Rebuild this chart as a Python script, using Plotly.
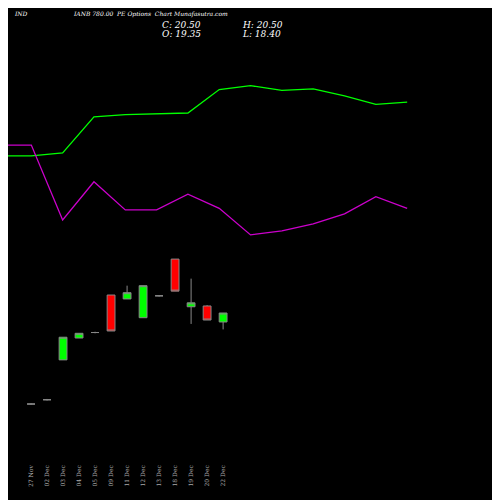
import numpy as np
import plotly.graph_objects as go

dates = ["27 Nov", "02 Dec", "03 Dec", "04 Dec", "05 Dec", "09 Dec", "11 Dec",
         "12 Dec", "13 Dec", "18 Dec", "19 Dec", "20 Dec", "22 Dec"]
opens = [8.85, 9.4, 14.5, 17.3, 18.0, 22.8, 22.3, 19.9, 22.7, 27.4, 21.3, 21.4, 19.35]
highs = [8.95, 9.5, 17.4, 17.9, 18.1, 22.8, 24.0, 24.0, 22.8, 27.4, 24.9, 21.5, 20.5]
lows = [8.75, 9.3, 14.5, 17.3, 17.9, 18.2, 22.3, 19.9, 22.6, 23.3, 19.1, 19.6, 18.4]
closes = [8.85, 9.4, 17.4, 17.9, 18.0, 18.2, 23.1, 24.0, 22.7, 23.3, 21.8, 19.6, 20.5]

# indicator lines (price units)
green_line = [40.6, 40.6, 41.0, 45.6, 45.9, 46.0, 46.1, 49.1, 49.6, 49.0, 49.2, 48.3, 47.2, 47.5]
magenta_line = [42.0, 42.0, 32.4, 37.3, 33.7, 33.7, 35.7, 33.9, 30.5, 31.0, 31.9, 33.2, 35.4, 33.9]

xi = np.arange(len(dates))
line_x = np.linspace(-1.94, 23.5, len(green_line))

fig = go.Figure()
fig.add_trace(go.Scatter(x=line_x, y=green_line, mode="lines",
                         line=dict(color="#00ff00", width=1.3), hoverinfo="skip"))
fig.add_trace(go.Scatter(x=line_x, y=magenta_line, mode="lines",
                         line=dict(color="#cc00cc", width=1.3), hoverinfo="skip"))
fig.add_trace(go.Candlestick(
    x=xi, open=opens, high=highs, low=lows, close=closes,
    increasing=dict(fillcolor="#00ff00", line=dict(color="#888888", width=1)),
    decreasing=dict(fillcolor="#ff0000", line=dict(color="#888888", width=1)),
    whiskerwidth=0, hoverinfo="skip"))

fig.update_layout(
    width=500, height=500, paper_bgcolor="black", plot_bgcolor="black",
    showlegend=False, margin=dict(l=0, r=0, t=0, b=45, autoexpand=False),
    font=dict(family="DejaVu Serif", color="white"),
    xaxis=dict(range=[-1.44, 29.8], showgrid=False, zeroline=False,
               rangeslider=dict(visible=False), tickmode="array",
               tickvals=xi, ticktext=dates, tickangle=-90,
               tickfont=dict(size=6, color="#aaaaaa"), ticks=""),
    yaxis=dict(range=[1.3, 59.54], showgrid=False, zeroline=False,
               showticklabels=False),
)

font_small = dict(family="DejaVu Serif", size=6, color="white")
font_val = dict(family="DejaVu Serif", size=9, color="white")
anns = [
    (12, 14, "<i>IND</i>", font_small),
    (71, 14, "<i>IANB 780.00  PE Options  Chart Munafasutra.com</i>", font_small),
    (160, 25, "<i>C: 20.50</i>", font_val),
    (240, 25, "<i>H: 20.50</i>", font_val),
    (160, 34, "<i>O: 19.35</i>", font_val),
    (240, 34, "<i>L: 18.40</i>", font_val),
]
for x, y, t, f in anns:
    fig.add_annotation(x=(x - 8) / 500, y=1 - (y - 8) / 455, xref="paper", yref="paper",
                       yanchor="middle", xanchor="left", text=t, showarrow=False,
                       font=f)
fig.write_html("out.html")
